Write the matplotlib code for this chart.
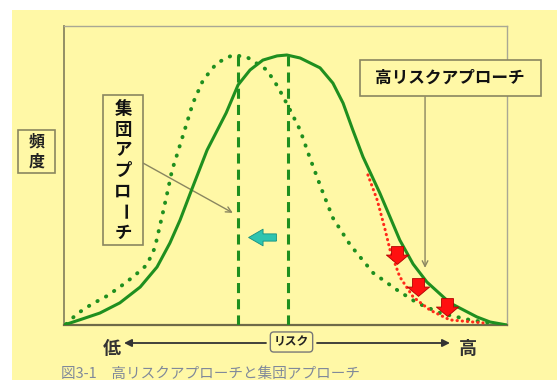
import numpy as np
import matplotlib.pyplot as plt
from matplotlib.patches import Rectangle
from matplotlib.path import Path

plt.rcParams['font.family'] = ['Noto Sans CJK JP', 'DejaVu Sans']

# Risk (0 = low, 100 = high) vs frequency
solid_risk = [0, 4.1, 8.1, 12.6, 17.2, 21.0, 23.9, 26.2, 28.7, 32.3, 36.6, 39.3, 42.0,
              44.9, 48.1, 50.3, 53.3, 57.8, 60.7, 63.0, 65.2, 67.5, 71.3, 73.6, 75.8,
              78.8, 81.9, 87.1, 93.2, 96.2, 100]
solid_freq = [0, 2.0, 4.0, 7.4, 12.7, 19.4, 27.4, 35.1, 44.8, 58.5, 70.9, 80.3, 85.3,
              88.6, 90.0, 90.3, 89.3, 86.0, 80.9, 74.2, 65.2, 56.2, 44.1, 36.1, 28.4,
              20.4, 14.4, 7.4, 2.7, 1.0, 0]

dotted_risk = [0.5, 2.9, 6.3, 9.7, 12.6, 15.6, 18.7, 20.5, 22.1, 23.3, 24.4, 25.5, 27.8,
               29.1, 31.4, 34.5, 38.1, 41.3, 45.8, 48.3, 50.8, 53.3, 55.5, 58.2, 60.7,
               64.6, 69.8, 75.2, 79.7, 84.9, 91.6, 96.2]
dotted_freq = [0.3, 3.7, 7.0, 9.7, 12.7, 16.1, 20.1, 25.8, 36.1, 44.1, 51.8, 56.9, 67.9,
               74.2, 81.9, 87.6, 90.3, 89.6, 85.3, 79.6, 72.6, 65.2, 55.9, 45.2, 35.8,
               26.8, 17.4, 11.7, 7.4, 4.0, 1.7, 0.7]

red_risk = [68.6, 70.7, 72.5, 73.6, 75.8, 78.8, 82.6, 87.1, 94.6]
red_freq = [50.2, 41.8, 31.8, 25.1, 16.1, 9.4, 5.0, 1.7, 0.7]

mean_lines = [39.3, 50.6]
mean_top = 90.3

red_arrow_risk = [75.2, 79.9, 86.5]
red_arrow_freq = [23.4, 12.7, 6.0]
shift_risk, shift_freq = 44.7, 29.4

yellow = '#fff8a6'
green = '#1f8f1f'
frame = '#8a8660'

fig = plt.figure(figsize=(5.57, 3.80), dpi=100)
fig.patch.set_facecolor('white')

# background layer in pixel coordinates
bg = fig.add_axes([0, 0, 1, 1], zorder=0)
bg.set_xlim(0, 557)
bg.set_ylim(380, 0)
bg.axis('off')
bg.add_patch(Rectangle((12, 10), 545, 370, facecolor=yellow, edgecolor='none'))

# main chart
ax = fig.add_axes([64 / 557, 55 / 380, 443 / 557, 299 / 380], zorder=1)
ax.set_facecolor('none')
ax.set_xlim(0, 100)
ax.set_ylim(0, 100)
ax.set_xticks([])
ax.set_yticks([])
ax.spines['left'].set_color(frame)
ax.spines['left'].set_linewidth(1.3)
ax.spines['bottom'].set_color('#6e6a48')
ax.spines['bottom'].set_linewidth(1.6)
for s in ['top', 'right']:
    ax.spines[s].set_color('#a9a894')
    ax.spines[s].set_linewidth(1.0)

ax.plot(dotted_risk, dotted_freq, color=green, lw=2.8, linestyle=(0, (0.1, 2.4)),
        dash_capstyle='round', zorder=3)
ax.plot(red_risk, red_freq, color='#ff2a1a', lw=2.2, linestyle=(0, (0.1, 1.6)),
        dash_capstyle='round', zorder=3)
ax.plot(solid_risk, solid_freq, color=green, lw=2.2, zorder=4)
for m in mean_lines:
    ax.plot([m, m], [0, mean_top], color=green, lw=2.2, linestyle=(0, (3.3, 2)), zorder=3)

down_arrow = Path([(-0.27, 0.4), (0.27, 0.4), (0.27, 0.02), (0.5, 0.02), (0, -0.4),
                   (-0.5, 0.02), (-0.27, 0.02), (-0.27, 0.4)])
left_arrow = Path([(0.5, -0.13), (0.5, 0.13), (0.02, 0.13), (0.02, 0.3), (-0.5, 0),
                   (0.02, -0.3), (0.02, -0.13), (0.5, -0.13)])
ax.plot(red_arrow_risk, red_arrow_freq, linestyle='none', marker=down_arrow, markersize=16,
        markerfacecolor='#ff1010', markeredgecolor='#b00000', markeredgewidth=0.6, zorder=5)
ax.plot([shift_risk], [shift_freq], linestyle='none', marker=left_arrow, markersize=20,
        markerfacecolor='#2ec4b0', markeredgecolor='#149080', markeredgewidth=0.6, zorder=5)

# pointer lines
ax.annotate('', xy=(38.1, 37.5), xytext=(17.8, 54.2),
            arrowprops=dict(arrowstyle='->', color=frame, lw=1.0, shrinkA=0, shrinkB=0))
ax.annotate('', xy=(81.5, 19.1), xytext=(81.5, 76.3),
            arrowprops=dict(arrowstyle='->', color=frame, lw=1.0, shrinkA=0, shrinkB=0))

# labels layer in pixel coordinates
fg = fig.add_axes([0, 0, 1, 1], zorder=2)
fg.set_facecolor('none')
fg.set_xlim(0, 557)
fg.set_ylim(380, 0)
fg.axis('off')

fg.add_patch(Rectangle((18, 130), 37, 43, facecolor=yellow, edgecolor=frame, lw=1.2))
fg.text(36.5, 142, '頻', ha='center', va='center', fontsize=11.5, fontweight='bold', color='#222')
fg.text(36.5, 162, '度', ha='center', va='center', fontsize=11.5, fontweight='bold', color='#222')

fg.add_patch(Rectangle((103, 95), 40, 150, facecolor=yellow, edgecolor=frame, lw=1.2))
for i, ch in enumerate('集団アプローチ'):
    fg.text(123, 109 + i * 20.6, ch, ha='center', va='center', fontsize=12.5,
            fontweight='bold', color='#111', rotation=-90 if ch == 'ー' else 0)

fg.add_patch(Rectangle((360, 60), 181, 36, facecolor=yellow, edgecolor=frame, lw=1.2))
fg.text(450, 78, '高リスクアプローチ', ha='center', va='center', fontsize=12,
        fontweight='bold', color='#111')

# risk axis
fg.annotate('', xy=(124, 343), xytext=(266, 343),
            arrowprops=dict(arrowstyle='-|>', color='#333', lw=1.3, mutation_scale=11,
                            shrinkA=0, shrinkB=0))
fg.annotate('', xy=(450, 343), xytext=(317, 343),
            arrowprops=dict(arrowstyle='-|>', color='#333', lw=1.3, mutation_scale=11,
                            shrinkA=0, shrinkB=0))
fg.text(291.5, 342, 'リスク', ha='center', va='center', fontsize=8.5, fontweight='bold',
        color='#222', bbox=dict(boxstyle='round,pad=0.3', facecolor=yellow,
                                edgecolor='#777', lw=1.0))
fg.text(112, 348, '低', ha='center', va='center', fontsize=13, fontweight='bold', color='#333')
fg.text(468, 348, '高', ha='center', va='center', fontsize=13, fontweight='bold', color='#333')

fg.text(61, 374, '図3-1　高リスクアプローチと集団アプローチ', ha='left', va='center',
        fontsize=10.5, color='#80899a')

fig.savefig('out.png', dpi=100)
